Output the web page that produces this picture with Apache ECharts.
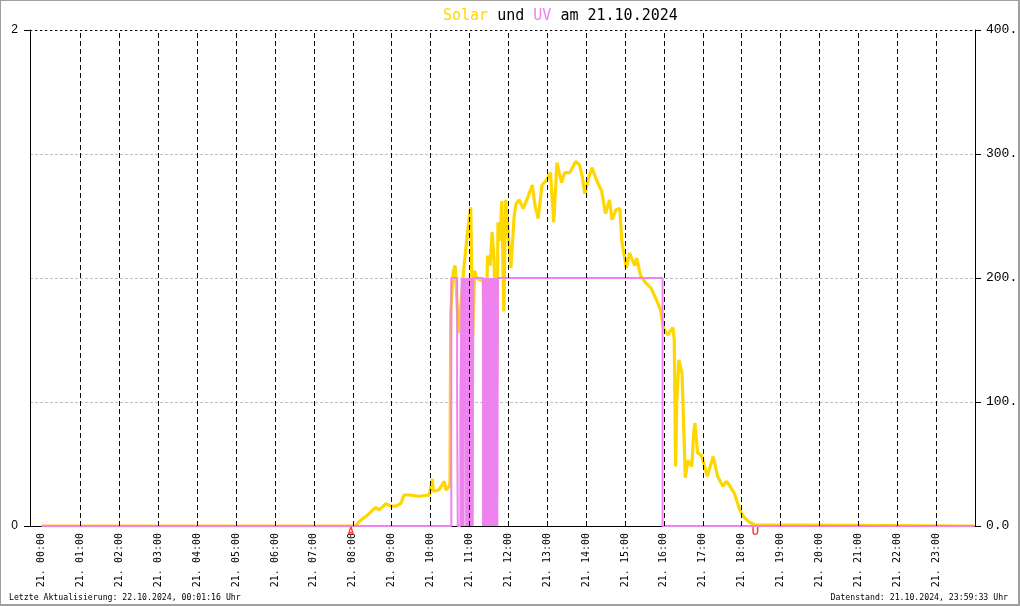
<!DOCTYPE html>
<html><head><meta charset="utf-8">
<script src="https://cdn.jsdelivr.net/npm/echarts@6/dist/echarts.min.js"></script>
<style>html,body{margin:0;padding:0;background:#fff}#c{width:1020px;height:606px}</style>
</head><body><div id="c"></div>
<script>
// ---- data ----
const hourTicks = [0,1,2,3,4,5,6,7,8,9,10,11,12,13,14,15,16,17,18,19,20,21,22,23];
const hourLabels = ['21. 00:00','21. 01:00','21. 02:00','21. 03:00','21. 04:00','21. 05:00','21. 06:00','21. 07:00',
  '21. 08:00','21. 09:00','21. 10:00','21. 11:00','21. 12:00','21. 13:00','21. 14:00','21. 15:00',
  '21. 16:00','21. 17:00','21. 18:00','21. 19:00','21. 20:00','21. 21:00','21. 22:00','21. 23:00'];

const solarTimes = ['00:00','08:04','08:11','08:21','08:31','08:36','08:41','08:51','08:59','09:06',
  '09:14','09:19','09:27','09:42','09:58','10:03','10:04','10:13','10:21','10:24',
  '10:29','10:30','10:31','10:35','10:38','10:43','10:46','10:50','10:55','11:00',
  '11:02','11:05','11:08','11:11','11:18','11:21','11:24','11:28','11:32','11:35',
  '11:38','11:42','11:44','11:47','11:50','11:53','11:56','11:59','12:04','12:09',
  '12:12','12:17','12:23','12:30','12:37','12:41','12:46','12:52','12:59','13:05',
  '13:10','13:15','13:22','13:27','13:35','13:44','13:50','13:54','13:58','14:04',
  '14:09','14:16','14:24','14:30','14:36','14:40','14:46','14:52','14:55','15:02',
  '15:07','15:15','15:18','15:24','15:32','15:40','15:48','15:55','15:59','16:06',
  '16:11','16:14','16:16','16:18','16:20','16:23','16:28','16:33','16:37','16:43',
  '16:46','16:48','16:52','16:58','17:07','17:16','17:23','17:31','17:36','17:41',
  '17:49','17:57','18:04','18:12','18:20','18:23','23:59'];
const solarValues = [0,0,4,8,13,15,13,18,16,16,
  18,25,25,24,25,38,28,29,36,29,
  32,35,172,205,210,156,170,200,227,250,
  257,152,206,200,198,200,131,218,210,237,
  215,120,245,230,262,173,263,262,208,250,
  260,263,256,265,275,259,248,275,279,285,
  245,293,277,285,285,294,291,282,268,281,
  289,279,270,252,263,247,255,256,230,208,
  220,210,216,202,196,192,183,174,160,154,
  158,160,150,48,102,134,123,39,53,48,
  75,83,59,57,40,56,40,32,36,33,
  26,13,7,3,1,0,0];

const uvTimes = ['00:00','10:32','10:41','10:42','10:46','10:48',
  '10:49','10:50','10:51','10:52','10:53','10:54','10:55','10:56','10:57','10:58',
  '10:59','11:00','11:01','11:02','11:03','11:04','11:05','11:06',
  '11:21','11:22','11:23','11:24','11:25','11:26','11:27','11:28','11:29','11:30',
  '11:31','11:32','11:33','11:34','11:35','11:36','11:37','11:38','11:39','11:40',
  '11:41','11:42','11:43','11:44','15:58','23:59'];
const uvValues = [0,1,0.5,0,0.5,1,
  0,1,0,1,0.5,1,0,1,0,1,
  0,1,0,1,0,1,0,1,
  0,1,0,1,0,1,0,1,0,1,
  0,1,0,1,0,1,0,1,0,1,
  0,1,0,1,0,0];

const sunTimes = ['07:57','18:21'];
const sunLabels = ['A','U'];

// ---- helpers ----
function toH(t){ const p = t.split(':').map(Number); return p[0] + p[1]/60; }
const solarData = solarTimes.map((t,i)=>[toH(t), solarValues[i]]);
const uvData = uvTimes.map((t,i)=>[toH(t), uvValues[i]]);
const mono = 'DejaVu Sans Mono';

const chart = echarts.init(document.getElementById('c'), null, {renderer:'canvas'});
chart.setOption({
  animation:false,
  backgroundColor:'#fff',
  title:{
    text:'{s|Solar} und {u|UV} am 21.10.2024',
    left:438, top:4,
    textStyle:{fontFamily:mono,fontSize:15,fontWeight:'normal',color:'#000',
      rich:{s:{color:'#FFD700',fontFamily:mono,fontSize:15},u:{color:'#EE82EE',fontFamily:mono,fontSize:15}}}
  },
  grid:{left:30,right:45,top:30,bottom:80,containLabel:false,outerBoundsMode:'none'},
  xAxis:{
    type:'value', min:-0.3, max:24,
    axisLine:{show:true,onZero:false,lineStyle:{color:'#000',width:1}},
    axisTick:{show:false},
    splitLine:{show:false},
    axisLabel:{
      customValues:hourTicks, rotate:90, margin:7, color:'#000',
      fontFamily:mono, fontSize:10,
      formatter:(v)=>hourLabels[hourTicks.indexOf(Math.round(v))]
    }
  },
  yAxis:[
    {type:'value',min:0,max:2,interval:2,position:'left',
     axisLine:{show:true,onZero:false,lineStyle:{color:'#000'}},
     axisTick:{show:true,length:6,lineStyle:{color:'#000'}},
     splitLine:{show:false},
     axisLabel:{color:'#000',fontFamily:'Liberation Sans',fontSize:12,margin:12}},
    {type:'value',min:0,max:400,interval:100,position:'right',
     axisLine:{show:true,onZero:false,lineStyle:{color:'#000'}},
     axisTick:{show:true,length:6,lineStyle:{color:'#000'}},
     splitLine:{show:true,lineStyle:{color:'#c0c0c0',type:[3,2],width:1}},
     axisLabel:{color:'#000',fontFamily:'Liberation Mono',fontSize:13,margin:11,
       formatter:(v)=>v.toFixed(1)}}
  ],
  series:[
    {name:'Solar',type:'line',xAxisIndex:0,yAxisIndex:1,data:solarData,
     showSymbol:false,symbol:'none',lineStyle:{color:'#FFD700',width:3.2},z:2,silent:true},
    {name:'UV',type:'line',xAxisIndex:0,yAxisIndex:0,data:uvData,step:'end',
     showSymbol:false,symbol:'none',lineStyle:{color:'#EE82EE',width:2},z:3,silent:true},
    {name:'grid',type:'line',xAxisIndex:0,yAxisIndex:1,data:[[0,0]],
     showSymbol:false,symbol:'none',lineStyle:{width:0,opacity:0},z:5,silent:true,
     markLine:{silent:true,symbol:'none',animation:false,label:{show:false},
       data:hourTicks.slice(1).map(h=>({xAxis:h,lineStyle:{color:'#000',type:[5,3],width:1}}))
         .concat([{yAxis:400,lineStyle:{color:'#000',type:[2,3],width:1}}])}},
    {name:'sun',type:'scatter',xAxisIndex:0,yAxisIndex:1,symbol:'rect',symbolSize:1,z:6,silent:true,
     itemStyle:{color:'rgba(0,0,0,0)'},
     data:sunTimes.map((t,i)=>({name:sunLabels[i],value:[toH(t),0]})),
     label:{show:true,position:'bottom',distance:1,formatter:'{b}',color:'#ff0000',
       fontFamily:'Liberation Sans',fontSize:10,fontWeight:'bold'}}
  ],
  graphic:[
    {type:'text',left:9,top:594,style:{text:'Letzte Aktualisierung: 22.10.2024, 00:01:16 Uhr',
      font:'8.2px "DejaVu Sans Mono"',fill:'#000'}},
    {type:'text',right:12,top:594,style:{text:'Datenstand: 21.10.2024, 23:59:33 Uhr',
      font:'8.2px "DejaVu Sans Mono"',fill:'#000'}},
    {type:'rect',shape:{x:0,y:0,width:1019,height:605},z:100,
      style:{fill:'none',stroke:'#a0a0a0',lineWidth:2}}
  ]
});
</script></body></html>
